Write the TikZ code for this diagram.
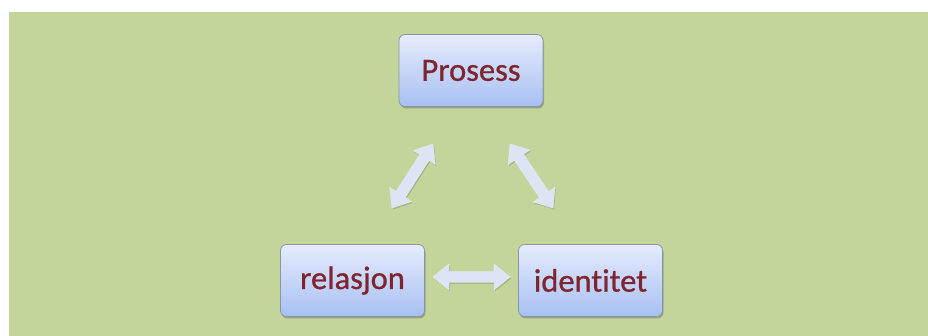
\documentclass[tikz,border=0pt]{standalone}
\usepackage{fontspec}
\setmainfont[Ligatures=NoCommon,FakeBold=0.8]{Carlito}
\usetikzlibrary{calc,shadows}
\definecolor{bggreen}{HTML}{C4D59C}
\definecolor{boxtop}{HTML}{E6ECFC}
\definecolor{boxbot}{HTML}{A7C0F2}
\definecolor{boxline}{HTML}{8797A8}
\definecolor{txtred}{HTML}{7E2530}
\definecolor{arrfill}{HTML}{DCE4F6}
\tikzset{
  termbox/.style={draw=boxline, line width=0.8pt, rounded corners=6pt,
    top color=boxtop, bottom color=boxbot, minimum width=144pt, minimum height=72pt,
    inner sep=0pt, text=txtred, font=\fontsize{32.5}{38}\selectfont,
    drop shadow={shadow xshift=1pt, shadow yshift=-2pt, opacity=0.45, fill=black!60}},
  arrbody/.style={fill=arrfill, draw=white!85!gray, line width=0.4pt,
    drop shadow={shadow xshift=1pt, shadow yshift=-1.5pt, opacity=0.3, fill=black!60}}
}
\newcommand{\biarrow}[2]{%
  \path[arrbody]
    (#1)
    -- ($(#1)!16pt!(#2)!13pt!90:(#2)$)
    -- ($(#1)!16pt!(#2)!5.5pt!90:(#2)$)
    -- ($(#2)!16pt!(#1)!5.5pt!-90:(#1)$)
    -- ($(#2)!16pt!(#1)!13pt!-90:(#1)$)
    -- (#2)
    -- ($(#2)!16pt!(#1)!13pt!90:(#1)$)
    -- ($(#2)!16pt!(#1)!5.5pt!90:(#1)$)
    -- ($(#1)!16pt!(#2)!5.5pt!-90:(#2)$)
    -- ($(#1)!16pt!(#2)!13pt!-90:(#2)$)
    -- cycle;}
\begin{document}
\begin{tikzpicture}[x=1pt,y=1pt]
\useasboundingbox (0,0) rectangle (928,336);
\fill[white] (0,0) rectangle (928,336);
\fill[bggreen] (9,0) rectangle (928,324);
\node[termbox] (p) at (471,265.5) {Prosess};
\node[termbox] (r) at (352.5,55.5) {relasjon};
\node[termbox] (i) at (590.5,55.5) {identitet};
\coordinate (la) at (433,192);
\coordinate (lb) at (392,128);
\coordinate (ra) at (510,192);
\coordinate (rb) at (553,128);
\coordinate (ha) at (433,59);
\coordinate (hb) at (510,59);
\biarrow{la}{lb}
\biarrow{ra}{rb}
\biarrow{ha}{hb}
\end{tikzpicture}
\end{document}
